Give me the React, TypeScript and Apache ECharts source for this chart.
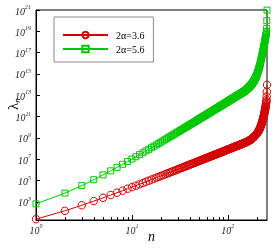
import React, { useEffect, useRef } from 'react';
import * as echarts from 'echarts';

// Legend names
const seriesNames = ['2α=3.6', '2α=5.6'];

// log10(λ_n) for n = 1..256, 2α = 3.6 (red circles)
const redLog10Lambda = [
  1.38, 2.16, 2.68, 3.07, 3.38, 3.64, 3.86, 4.05, 4.23, 4.38,
  4.52, 4.65, 4.77, 4.89, 4.99, 5.09, 5.18, 5.27, 5.35, 5.43,
  5.50, 5.57, 5.64, 5.70, 5.77, 5.83, 5.88, 5.94, 5.99, 6.05,
  6.10, 6.14, 6.19, 6.24, 6.28, 6.33, 6.37, 6.41, 6.45, 6.49,
  6.53, 6.56, 6.60, 6.63, 6.67, 6.70, 6.74, 6.77, 6.80, 6.83,
  6.86, 6.89, 6.92, 6.95, 6.98, 7.01, 7.04, 7.06, 7.09, 7.11,
  7.14, 7.17, 7.19, 7.21, 7.24, 7.26, 7.29, 7.31, 7.33, 7.35,
  7.38, 7.40, 7.42, 7.44, 7.46, 7.48, 7.50, 7.52, 7.54, 7.56,
  7.58, 7.60, 7.62, 7.64, 7.65, 7.67, 7.69, 7.71, 7.73, 7.74,
  7.76, 7.78, 7.79, 7.81, 7.83, 7.84, 7.86, 7.88, 7.89, 7.91,
  7.92, 7.94, 7.95, 7.97, 7.98, 8.00, 8.01, 8.03, 8.04, 8.06,
  8.07, 8.08, 8.10, 8.11, 8.13, 8.14, 8.15, 8.17, 8.18, 8.19,
  8.20, 8.22, 8.23, 8.24, 8.25, 8.27, 8.28, 8.29, 8.30, 8.32,
  8.33, 8.34, 8.35, 8.36, 8.37, 8.39, 8.40, 8.41, 8.42, 8.43,
  8.44, 8.45, 8.46, 8.48, 8.49, 8.50, 8.51, 8.52, 8.53, 8.54,
  8.55, 8.56, 8.57, 8.59, 8.60, 8.61, 8.62, 8.63, 8.65, 8.66,
  8.67, 8.68, 8.70, 8.71, 8.72, 8.74, 8.75, 8.76, 8.77, 8.79,
  8.80, 8.82, 8.84, 8.85, 8.87, 8.88, 8.90, 8.92, 8.93, 8.95,
  8.97, 8.99, 9.01, 9.03, 9.05, 9.06, 9.08, 9.10, 9.12, 9.14,
  9.17, 9.19, 9.21, 9.24, 9.26, 9.29, 9.31, 9.34, 9.36, 9.38,
  9.41, 9.44, 9.47, 9.50, 9.53, 9.56, 9.59, 9.62, 9.65, 9.68,
  9.71, 9.75, 9.78, 9.82, 9.86, 9.90, 9.94, 9.99, 10.03, 10.07,
  10.12, 10.17, 10.22, 10.27, 10.32, 10.38, 10.44, 10.49, 10.55, 10.61,
  10.67, 10.74, 10.80, 10.87, 10.93, 11.00, 11.07, 11.14, 11.22, 11.29,
  11.37, 11.44, 11.52, 11.61, 11.70, 11.79, 11.89, 11.99, 12.10, 12.22,
  12.33, 12.44, 12.59, 12.89, 13.33, 13.98,
];

// log10(λ_n) for n = 1..256, 2α = 5.6 (green squares)
const greenLog10Lambda = [
  2.81, 3.82, 4.53, 5.08, 5.53, 5.91, 6.24, 6.53, 6.78, 7.02,
  7.23, 7.43, 7.61, 7.78, 7.93, 8.08, 8.22, 8.35, 8.48, 8.60,
  8.71, 8.82, 8.92, 9.02, 9.12, 9.21, 9.30, 9.38, 9.47, 9.55,
  9.62, 9.70, 9.77, 9.84, 9.91, 9.98, 10.04, 10.10, 10.17, 10.23,
  10.29, 10.34, 10.40, 10.45, 10.51, 10.56, 10.61, 10.66, 10.71, 10.76,
  10.81, 10.85, 10.90, 10.94, 10.99, 11.03, 11.07, 11.11, 11.15, 11.19,
  11.23, 11.27, 11.31, 11.35, 11.39, 11.42, 11.46, 11.49, 11.53, 11.56,
  11.60, 11.63, 11.66, 11.70, 11.73, 11.76, 11.79, 11.82, 11.85, 11.88,
  11.91, 11.94, 11.97, 12.00, 12.03, 12.06, 12.09, 12.11, 12.14, 12.17,
  12.19, 12.22, 12.25, 12.27, 12.30, 12.32, 12.35, 12.37, 12.40, 12.42,
  12.44, 12.47, 12.49, 12.52, 12.54, 12.56, 12.58, 12.61, 12.63, 12.65,
  12.67, 12.69, 12.72, 12.74, 12.76, 12.78, 12.80, 12.82, 12.84, 12.86,
  12.88, 12.90, 12.92, 12.94, 12.96, 12.98, 13.00, 13.02, 13.04, 13.05,
  13.07, 13.09, 13.11, 13.13, 13.14, 13.16, 13.18, 13.20, 13.22, 13.23,
  13.25, 13.27, 13.28, 13.30, 13.32, 13.33, 13.35, 13.37, 13.38, 13.40,
  13.42, 13.44, 13.46, 13.49, 13.51, 13.53, 13.55, 13.57, 13.59, 13.61,
  13.63, 13.66, 13.68, 13.70, 13.73, 13.75, 13.77, 13.80, 13.82, 13.84,
  13.87, 13.90, 13.93, 13.95, 13.98, 14.01, 14.04, 14.07, 14.09, 14.12,
  14.15, 14.19, 14.22, 14.25, 14.28, 14.32, 14.35, 14.38, 14.42, 14.45,
  14.49, 14.53, 14.58, 14.62, 14.66, 14.71, 14.75, 14.79, 14.84, 14.88,
  14.94, 14.99, 15.05, 15.11, 15.16, 15.22, 15.28, 15.33, 15.39, 15.45,
  15.51, 15.58, 15.65, 15.72, 15.78, 15.86, 15.94, 16.02, 16.10, 16.17,
  16.25, 16.33, 16.41, 16.49, 16.56, 16.64, 16.72, 16.80, 16.88, 16.95,
  17.04, 17.12, 17.20, 17.29, 17.37, 17.45, 17.54, 17.62, 17.70, 17.78,
  17.87, 17.96, 18.05, 18.14, 18.23, 18.32, 18.40, 18.49, 18.58, 18.67,
  18.76, 18.85, 18.98, 19.27, 20.00, 20.99,
];

// Axis ticks (exponents of 10)
const xTickExponents = [0, 1, 2];
const xMinorTickN = [2, 3, 4, 5, 6, 7, 8, 9, 20, 30, 40, 50, 60, 70, 80, 90, 200];
const yTickExponents = [3, 5, 7, 9, 11, 13, 15, 17, 19, 21];
const N_MAX = 256;
const Y_MIN = 1.3;
const Y_MAX = 21;

const RED = '#d20000';
const GREEN = '#00c800';
const FONT = '"Liberation Serif", "DejaVu Serif", serif';

const toPoints = (arr: number[]) => arr.map((v, i) => [Math.log10(i + 1), v]);

const labelRich = {
  b: { fontFamily: FONT, fontStyle: 'italic', fontSize: 10, color: '#222', lineHeight: 12, verticalAlign: 'bottom' },
  s: { fontFamily: FONT, fontStyle: 'italic', fontSize: 6, color: '#222', lineHeight: 6, verticalAlign: 'top' },
};

export default function App() {
  const ref = useRef<HTMLDivElement>(null);
  useEffect(() => {
    if (!ref.current) return;
    const chart = echarts.init(ref.current, undefined, { renderer: 'svg' });
    const option: any = {
      animation: false,
      grid: {
        left: 36, right: 12, top: 10, bottom: 28,
        show: true, borderColor: '#000', borderWidth: 1,
        containLabel: false, outerBoundsMode: 'none',
      },
      legend: {
        data: seriesNames,
        orient: 'vertical',
        left: 54, top: 17,
        itemWidth: 45, itemHeight: 8, itemGap: 4,
        padding: [13, 9, 8, 8],
        borderColor: '#8a8a8a', borderWidth: 1, borderRadius: 0,
        textStyle: { fontFamily: FONT, fontSize: 10, color: '#000', padding: [0, 0, 0, 3] },
      },
      xAxis: {
        type: 'value', min: 0, max: Math.log10(N_MAX),
        axisLine: { show: true, lineStyle: { color: '#000', width: 1 } },
        axisTick: { show: true, inside: true, length: 5, customValues: xTickExponents, lineStyle: { color: '#000' } },
        axisLabel: {
          customValues: xTickExponents, margin: 3,
          formatter: (v: number) => `{b|10}{s|${Math.round(v)}}`, rich: labelRich,
        },
        splitLine: { show: false },
      },
      yAxis: {
        type: 'value', min: Y_MIN, max: Y_MAX,
        axisLine: { show: true, lineStyle: { color: '#000', width: 1 } },
        axisTick: { show: true, inside: true, length: 4, customValues: yTickExponents, lineStyle: { color: '#000' } },
        axisLabel: {
          customValues: yTickExponents, margin: 5,
          formatter: (v: number) => `{b|10}{s|${Math.round(v)}}`, rich: labelRich,
        },
        splitLine: { show: false },
      },
      graphic: [
        {
          type: 'text', x: 151.5, y: 236,
          style: { text: 'n', font: `italic 14px ${FONT}`, fill: '#000', textAlign: 'center', textVerticalAlign: 'middle' },
        },
        {
          type: 'text', x: 13, y: 104, rotation: Math.PI / 2,
          style: {
            text: '{a|λ}{b|n}', textAlign: 'center', textVerticalAlign: 'middle',
            rich: {
              a: { fontFamily: FONT, fontSize: 15, fill: '#000', lineHeight: 16, verticalAlign: 'top' },
              b: { fontFamily: FONT, fontStyle: 'italic', fontSize: 9, fill: '#000', lineHeight: 9, verticalAlign: 'bottom' },
            },
          },
        },
      ],
      series: [
        {
          name: seriesNames[0], type: 'line', data: toPoints(redLog10Lambda),
          symbol: 'circle', symbolSize: 7.5, showSymbol: true, color: RED,
          lineStyle: { color: RED, width: 1 },
          itemStyle: { color: 'rgba(255,255,255,0)', borderColor: RED, borderWidth: 1 },
          emphasis: { disabled: true }, clip: true, z: 3,
        },
        {
          name: seriesNames[1], type: 'line', data: toPoints(greenLog10Lambda),
          symbol: 'rect', symbolSize: 6, showSymbol: true, color: GREEN,
          lineStyle: { color: GREEN, width: 1 },
          itemStyle: { color: 'rgba(255,255,255,0)', borderColor: GREEN, borderWidth: 1 },
          emphasis: { disabled: true }, clip: true, z: 3,
        },
        {
          type: 'custom', coordinateSystem: 'cartesian2d', silent: true, clip: false, z: 5,
          data: xMinorTickN.map((n) => [Math.log10(n), Y_MIN]),
          renderItem: (_p: any, api: any) => {
            const pt = api.coord([api.value(0), Y_MIN]);
            return {
              type: 'line',
              shape: { x1: Math.round(pt[0]) + 0.5, y1: pt[1], x2: Math.round(pt[0]) + 0.5, y2: pt[1] - 3 },
              style: { stroke: '#000', lineWidth: 1 },
            };
          },
        },
      ],
    };
    chart.setOption(option);
    return () => chart.dispose();
  }, []);
  return <div ref={ref} style={{ position: 'fixed', left: 0, top: 0, width: 279, height: 248 }} />;
}
